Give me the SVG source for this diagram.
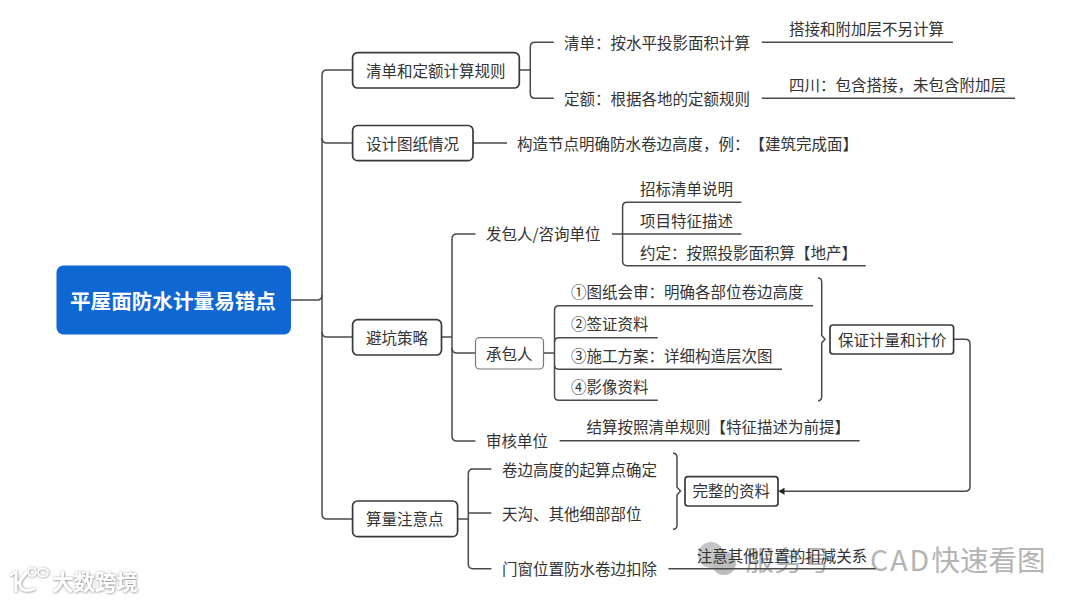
<svg xmlns="http://www.w3.org/2000/svg" width="1080" height="602" viewBox="0 0 1080 602">
<style>
text{font-family:"Noto Sans CJK SC","Liberation Sans",sans-serif;font-size:15.5px;fill:#333;dominant-baseline:central;text-spacing-trim:space-all}
.b{fill:#fff;stroke:#3a3a3a;stroke-width:1.7}
.l{fill:none;stroke:#4a4a4a;stroke-width:1.5}
.wm{fill:#b4b4b4;font-size:28.5px}
.wl{fill:none;stroke:#fff;stroke-width:2.6;stroke-linecap:round}
</style>
<defs>
<marker id="ah" markerUnits="userSpaceOnUse" markerWidth="7" markerHeight="8" refX="6" refY="4" orient="auto"><path d="M6.5 0.5L0.5 4L6.5 7.5z" transform="rotate(180 3.5 4)" fill="#222"/></marker>
<filter id="sh" x="-20%" y="-30%" width="140%" height="160%"><feDropShadow dx="0.4" dy="0.4" stdDeviation="1" flood-color="#777"/></filter>
</defs>
<rect width="1080" height="602" fill="#fff"/>
<g id="watermark-2">
<circle cx="711" cy="555" r="13" fill="#c6c6c6"/><circle cx="724" cy="563" r="12" fill="#bcbcbc"/>
<text class="wm" x="745.5" y="558.5">服务号</text>
<text class="wm" x="870" y="558.5" style="letter-spacing:2px">CAD</text>
<text class="wm" x="931.5" y="558.5">快速看图</text>
</g>
<g id="connectors">
<path class="l" d="M291 300H317Q322 300 322 295V75Q322 70 327 70H352.6"/>
<path class="l" d="M322 138Q322 143 327 143H352.6"/>
<path class="l" d="M322 295V332Q322 337 327 337H352.6"/>
<path class="l" d="M322 332V514Q322 519 327 519H352.6"/>
<path class="l" d="M519.3 70H530.3"/>
<path class="l" d="M553.8 42.3H535Q530.3 42.3 530.3 47V93.5Q530.3 98.3 535 98.3H553.8"/>
<path class="l" d="M761.8 42.3H952.9"/>
<path class="l" d="M761.8 98.3H1015"/>
<path class="l" d="M473 143H507"/>
<path class="l" d="M441.5 337H452"/>
<path class="l" d="M475.5 234H457Q452 234 452 239V436Q452 441 457 441H475.5"/>
<path class="l" d="M452 348Q452 353 457 353H475.5"/>
<path class="l" d="M612 234H741.4"/>
<path class="l" d="M741.4 202.3H627Q622.6 202.3 622.6 207V261Q622.6 265.7 627 265.7H865.8"/>
<path class="l" d="M543.5 353H554.5"/>
<path class="l" d="M813 305.7H559Q554.5 305.7 554.5 310V396Q554.5 400.3 559 400.3H657.8"/>
<path class="l" d="M554.5 342Q554.5 337.7 559 337.7H657.8"/>
<path class="l" d="M554.5 365Q554.5 369.3 559 369.3H782"/>
<path class="l" d="M818 278Q821.7 278 821.7 282V335.5L825 339.3L821.7 343V396.5Q821.7 400.7 818 400.7"/>
<path class="l" d="M559.6 440.7H859.6"/>
<path class="l" d="M953.6 339.3H965Q970 339.3 970 344V486.5Q970 491.3 965 491.3H779" marker-end="url(#ah)"/>
<path class="l" d="M457.6 519H468.3"/>
<path class="l" d="M491.4 469H473Q468.3 469 468.3 474V564Q468.3 568.7 473 568.7H491.4"/>
<path class="l" d="M468.3 513H491.4"/>
<path class="l" d="M673 453.3Q677 453.3 677 458V487.3L680.5 491L677 495V525Q677 529.3 673 529.3"/>
<path class="l" d="M668.4 568.7H875.7"/>
</g>
<g id="root"><rect x="56.5" y="265.5" width="234.5" height="69" rx="7" fill="#0e67d2"/><text x="70" y="299.5" style="font-size:20.6px;font-weight:700;fill:#fff">平屋面防水计量易错点</text></g>
<g id="n1"><rect class="b" x="352.6" y="52.7" width="166.7" height="35.3" rx="5"/><text x="366" y="69.5">清单和定额计算规则</text></g>
<g id="n2"><rect class="b" x="352.6" y="125.5" width="120.4" height="35.2" rx="5"/><text x="366" y="142.5">设计图纸情况</text></g>
<g id="n3"><rect class="b" x="352.6" y="319.7" width="88.9" height="35.3" rx="5"/><text x="366" y="336.5">避坑策略</text></g>
<g id="n4"><rect class="b" x="352.6" y="501" width="105" height="35.7" rx="5"/><text x="366" y="518">算量注意点</text></g>
<g id="n5"><text x="564" y="41.5">清单：按水平投影面积计算</text></g>
<g id="n6"><text x="564" y="97.5">定额：根据各地的定额规则</text></g>
<g id="n7"><text x="789" y="27.5">搭接和附加层不另计算</text></g>
<g id="n8"><text x="789" y="83.5">四川：包含搭接，未包含附加层</text></g>
<g id="n9"><text x="517" y="142.5">构造节点明确防水卷边高度，例：【建筑完成面】</text></g>
<g id="n10"><text x="486" y="232.5">发包人/咨询单位</text></g>
<g id="n11"><text x="640" y="188.2">招标清单说明</text></g>
<g id="n12"><text x="640" y="219.5">项目特征描述</text></g>
<g id="n13"><text x="640" y="251.5">约定：按照投影面积算【地产】</text></g>
<g id="n14"><rect x="475.5" y="337.7" width="68" height="31.3" rx="4" fill="#fff" stroke="#777" stroke-width="1.2"/><text x="486" y="352.5">承包人</text></g>
<g id="n15"><text x="571" y="291.2">①图纸会审：明确各部位卷边高度</text></g>
<g id="n16"><text x="571" y="322.8">②签证资料</text></g>
<g id="n17"><text x="571" y="354.5">③施工方案：详细构造层次图</text></g>
<g id="n18"><text x="571" y="386.2">④影像资料</text></g>
<g id="n19"><rect class="b" x="830" y="325" width="123.6" height="29" rx="3"/><text x="838" y="338.5">保证计量和计价</text></g>
<g id="n20"><text x="486" y="439.5">审核单位</text></g>
<g id="n21"><text x="586.5" y="426.2">结算按照清单规则【特征描述为前提】</text></g>
<g id="n22"><text x="502" y="468.5">卷边高度的起算点确定</text></g>
<g id="n23"><text x="502" y="512.5">天沟、其他细部部位</text></g>
<g id="n24"><text x="502" y="567.8">门窗位置防水卷边扣除</text></g>
<g id="n25"><rect class="b" x="685" y="476.7" width="93" height="29.3" rx="3"/><text x="692.5" y="490">完整的资料</text></g>
<g id="n26"><text x="696.7" y="554.5">注意其他位置的扣减关系</text></g>
<g id="watermark-1" filter="url(#sh)">
<text x="52" y="580.5" style="font-size:21.5px;font-weight:700;fill:#fff">大数跨境</text>
<path class="wl" d="M11 575L16 572V591M17 584L26 574M27 572Q19 579 20 586Q23 593 34 589"/>
<circle class="wl" style="stroke-width:1.6" cx="32" cy="572" r="4"/>
<ellipse class="wl" style="stroke-width:1.6" cx="43" cy="572.5" rx="5" ry="4"/>
</g>
</svg>
